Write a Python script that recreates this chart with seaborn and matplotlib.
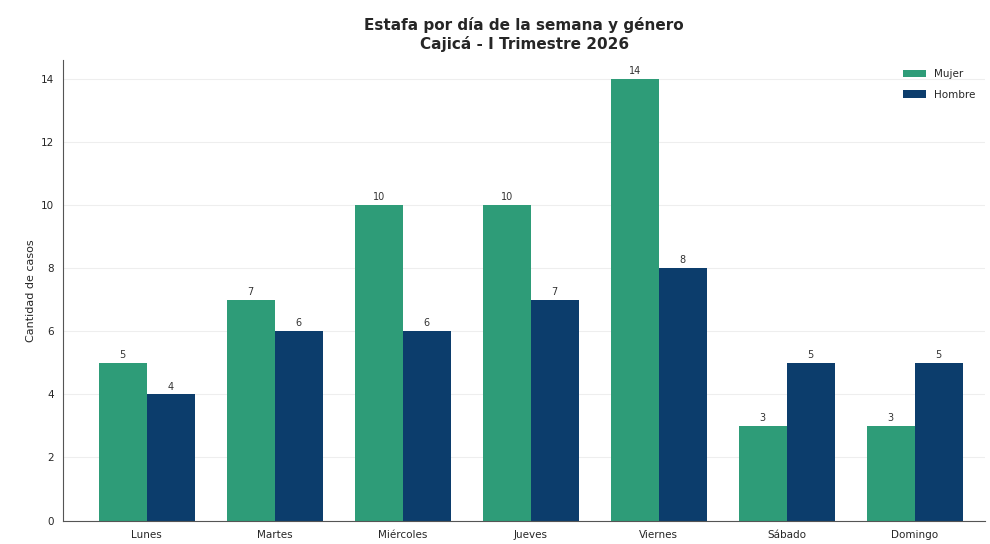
import seaborn as sns
import matplotlib.pyplot as plt
import pandas as pd
import matplotlib

matplotlib.use('Agg')

# datos
dias = ['Lunes', 'Martes', 'Miércoles', 'Jueves', 'Viernes', 'Sábado', 'Domingo']
mujer = [5, 7, 10, 10, 14, 3, 3]
hombre = [4, 6, 6, 7, 8, 5, 5]
generos = ['Mujer', 'Hombre']
colores = ['#2E9C78', '#0C3D6C']

df = pd.DataFrame({
    'dia': dias * 2,
    'casos': mujer + hombre,
    'genero': ['Mujer'] * len(dias) + ['Hombre'] * len(dias),
})

sns.set_theme(style="whitegrid")
plt.rcParams['font.family'] = ['DejaVu Sans']

fig, ax = plt.subplots(figsize=(9.9, 5.44), dpi=100)
sns.barplot(
    data=df,
    x='dia',
    y='casos',
    hue='genero',
    hue_order=generos,
    order=dias,
    palette=colores,
    width=0.75,
    saturation=1,
    linewidth=0,
    ax=ax
)

# etiquetas sobre las barras
for cont in ax.containers:
    ax.bar_label(cont, fmt='%d', fontsize=7, padding=2, color='#333333')

ax.set_title('Estafa por día de la semana y género\nCajicá - I Trimestre 2026',
             fontsize=11, fontweight='bold', pad=8)
ax.set_xlabel('')
ax.set_ylabel('Cantidad de casos', fontsize=8)
ax.set_ylim(0, 14.6)
ax.set_yticks(range(0, 15, 2))
ax.set_xlim(-0.65, 6.55)
ax.tick_params(axis='both', labelsize=7.5, length=3, color='#555555')
ax.grid(axis='x', visible=False)
ax.grid(axis='y', color='#eeeeee', linewidth=0.8)
sns.despine(ax=ax)
for s in ['left', 'bottom']:
    ax.spines[s].set_color('#555555')
    ax.spines[s].set_linewidth(0.8)

ax.legend(title=None, frameon=False, fontsize=7.5, loc='upper right',
          labelspacing=1.0, handlelength=2.2)

plt.subplots_adjust(left=0.064, right=0.995, top=0.89, bottom=0.043)
plt.savefig('out.png', dpi=100)
